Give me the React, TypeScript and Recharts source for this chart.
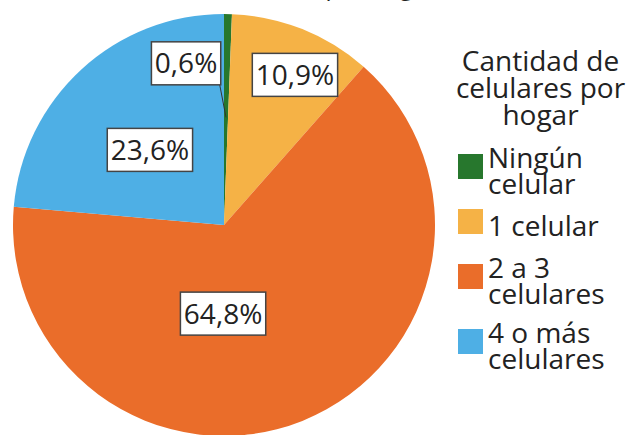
import React from 'react';
import { PieChart, Pie, Cell, Legend } from 'recharts';

const categories = ['Ningún celular', '1 celular', '2 a 3 celulares', '4 o más celulares'];
const legendLines = [['Ningún', 'celular'], ['1 celular'], ['2 a 3', 'celulares'], ['4 o más', 'celulares']];
const shares = [0.6, 10.9, 64.8, 23.6];
const shareLabels = ['0,6%', '10,9%', '64,8%', '23,6%'];
const colors = ['#27772D', '#F5B246', '#EA6D2A', '#4EAFE5'];

// where each box sits: fraction of radius, degrees clockwise from 12 o'clock
const labelPlace = [
  { r: 0.787, a: 346.8 },
  { r: 0.787, a: 25.3 },
  { r: 0.42, a: 180.6 },
  { r: 0.5, a: 315.4 },
];

const FONT = '"Open Sans", "Noto Sans", sans-serif';
const RAD = Math.PI / 180;

const charW: Record<string, number> = { ',': 0.258, '%': 0.823 };
const textWidth = (s: string, size: number) =>
  s.split('').reduce((w, c) => w + (charW[c] ?? 0.572), 0) * size;

const data = categories.map((name, i) => ({ name, value: shares[i] }));

const renderLabel = (props: any) => {
  const { cx, cy, outerRadius, index, midAngle } = props;
  const p = labelPlace[index];
  const x = cx + p.r * outerRadius * Math.sin(p.a * RAD);
  const y = cy - p.r * outerRadius * Math.cos(p.a * RAD);
  const txt = shareLabels[index];
  const w = textWidth(txt, 28) + 7;
  const h = 43;
  const small = shares[index] < 2;
  const lx = cx + 0.51 * outerRadius * Math.cos(-midAngle * RAD);
  const ly = cy + 0.51 * outerRadius * Math.sin(-midAngle * RAD);
  return (
    <g key={'lbl' + index}>
      {small && (
        <line x1={x + w / 2 - 1} y1={y + h / 2} x2={lx} y2={ly} stroke="#333" strokeWidth={1} />
      )}
      <rect x={x - w / 2} y={y - h / 2} width={w} height={h} fill="#fff" stroke="#444" strokeWidth={1.5} />
      <text x={x} y={y + 10} textAnchor="middle" fontFamily={FONT} fontSize={28} fill="#222">
        {txt}
      </text>
    </g>
  );
};

const renderLegend = () => (
  <div style={{ fontFamily: FONT, fontSize: 28, color: '#222' }}>
    <div style={{ textAlign: 'center', lineHeight: '27px', marginBottom: 16 }}>
      Cantidad de<br />celulares por<br />hogar
    </div>
    {legendLines.map((lines, i) => (
      <div key={i} style={{ display: 'flex', alignItems: 'center', marginBottom: 13, paddingLeft: 6 }}>
        <div style={{ width: 25, height: 25, background: colors[i], marginRight: 5, marginBottom: 7, flexShrink: 0 }} />
        <div style={{ lineHeight: '26px' }}>
          {lines.map((l, j) => (
            <div key={j}>{l}</div>
          ))}
        </div>
      </div>
    ))}
  </div>
);

export default function App() {
  return (
    <div style={{ position: 'absolute', left: 0, top: 0, width: 629, height: 435, overflow: 'hidden', background: '#fff' }}>
      <div
        style={{
          position: 'absolute',
          right: 193,
          top: -29,
          fontFamily: FONT,
          fontSize: 24,
          color: '#222',
          whiteSpace: 'nowrap',
          lineHeight: '30px',
        }}
      >
        Cantidad de celulares por hogar
      </div>
      <PieChart width={629} height={435} margin={{ top: 0, right: 0, bottom: 0, left: 0 }}>
        <Pie
          data={data}
          dataKey="value"
          nameKey="name"
          cx={224}
          cy={225}
          outerRadius={211}
          startAngle={90}
          endAngle={-270}
          stroke="none"
          label={renderLabel}
          labelLine={false}
          isAnimationActive={false}
        >
          {data.map((d, i) => (
            <Cell key={d.name} fill={colors[i]} />
          ))}
        </Pie>
        <Legend
          layout="vertical"
          align="right"
          verticalAlign="top"
          content={renderLegend}
          wrapperStyle={{ left: 452, top: 47, width: 177 }}
        />
      </PieChart>
    </div>
  );
}
